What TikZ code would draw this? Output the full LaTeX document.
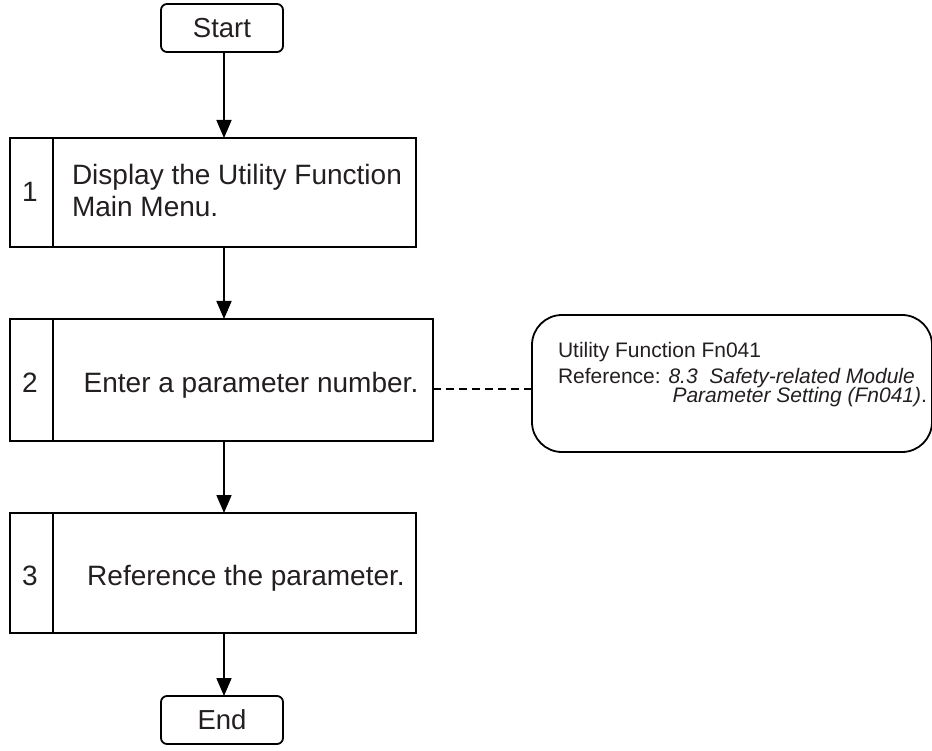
\documentclass[tikz,border=0pt]{standalone}
\usepackage{fontspec}
\setmainfont{Liberation Sans}
\usetikzlibrary{arrows.meta}
\definecolor{txt}{HTML}{231F20}
\begin{document}
\begin{tikzpicture}[x=1pt,y=-1pt,
  every node/.style={text=txt, inner sep=0pt, outer sep=0pt},
  term/.style={draw=black, line width=1.8pt, rounded corners=6pt, minimum width=122pt, minimum height=48pt, font=\fontsize{27.5}{31}\selectfont},
  stepbox/.style={draw=black, line width=1.8pt, anchor=north west},
  mainfont/.style={font=\fontsize{28}{31}\selectfont},
  smallfont/.style={font=\fontsize{21}{23}\selectfont},
  arr/.style={line width=1.8pt, -{Triangle[length=18pt,width=15pt]}},
  callout/.style={draw=black, line width=1.8pt, rounded corners=30pt, anchor=north west, minimum width=400pt, minimum height=137pt}
]
\useasboundingbox (0,0) rectangle (932,751);
% terminals
\node[term] (start) at (222,28) {Start};
\node[term] (end) at (222,720) {End};
% step boxes
\node[stepbox, minimum width=406pt, minimum height=109pt] (b1) at (10,138) {};
\node[stepbox, minimum width=423pt, minimum height=122pt] (b2) at (10,319) {};
\node[stepbox, minimum width=406pt, minimum height=120pt] (b3) at (10,513) {};
\draw[line width=1.8pt] (b1.north west) ++(43,0) coordinate (d1a) -- (d1a |- b1.south);
\draw[line width=1.8pt] (b2.north west) ++(43,0) coordinate (d2a) -- (d2a |- b2.south);
\draw[line width=1.8pt] (b3.north west) ++(43,0) coordinate (d3a) -- (d3a |- b3.south);
% numbers
\node[mainfont, anchor=base] (n1) at (30,202) {1};
\node[mainfont, anchor=base] (n2) at (30,392) {2};
\node[mainfont, anchor=base] (n3) at (30,585) {3};
% texts
\node[mainfont, anchor=base west] (t1) at (72,185) {Display the Utility Function};
\node[mainfont, anchor=base west] (t1b) at (72,217) {Main Menu.};
\node[mainfont, anchor=base] (t2) at (251,392) {Enter a parameter number.};
\node[mainfont, anchor=base] (t3) at (246,585) {Reference the parameter.};
% arrows
\draw[arr] (start.south -| 224,0) -- (224,0 |- b1.north);
\draw[arr] (224,0 |- b1.south) -- (224,0 |- b2.north);
\draw[arr] (224,0 |- b2.south) -- (224,0 |- b3.north);
\draw[arr] (224,0 |- b3.south) -- (224,0 |- end.north);
% callout
\node[callout] (co) at (532,315) {};
\node[smallfont, anchor=base west] (c1) at (558,357) {Utility Function Fn041};
\node[smallfont, anchor=base west] (c2) at (558,383) {Reference: \textit{8.3~ Safety-related Module}};
\node[smallfont, anchor=base east] (c3) at (927,402) {\textit{Parameter Setting (Fn041)}.};
\draw[line width=1.8pt, dash pattern=on 8pt off 5pt] (b2.east |- 0,389) -- (co.west |- 0,389);
\end{tikzpicture}
\end{document}
